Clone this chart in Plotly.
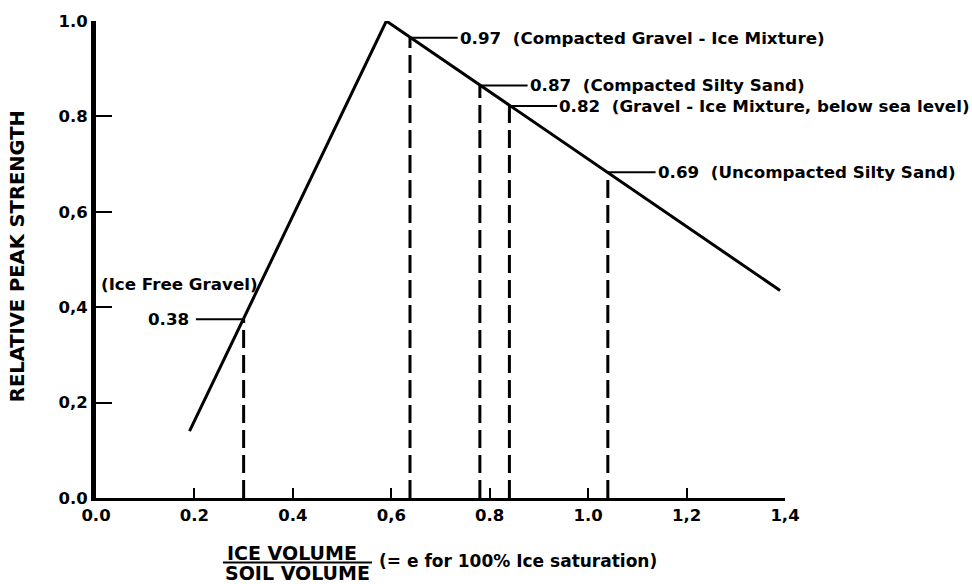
import plotly.graph_objects as go

# ---- data ----
curve_x = [0.19, 0.59, 1.39]
curve_y = [0.14, 1.00, 0.435]

mark_x = [0.30, 0.638, 0.78, 0.84, 1.04]
mark_y = [0.375, 0.965, 0.865, 0.822, 0.683]
mark_val = ["0.38", "0.97", "0.87", "0.82", "0.69"]
mark_desc = ["(Ice Free Gravel)", "(Compacted Gravel - Ice Mixture)",
             "(Compacted Silty Sand)", "(Gravel - Ice Mixture, below sea level)",
             "(Uncompacted Silty Sand)"]

x_tickvals = [0.0, 0.2, 0.4, 0.6, 0.8, 1.0, 1.2, 1.4]
x_ticktext = ["0.0", "0.2", "0.4", "0,6", "0.8", "1.0", "1,2", "1,4"]
y_tickvals = [0.0, 0.2, 0.4, 0.6, 0.8, 1.0]
y_ticktext = ["0.0", "0,2", "0,4", "0,6", "0.8", "1.0"]

FONT = "DejaVu Sans"
LEAD = 0.097
ANN_SIZE = 16.7

fig = go.Figure()

# dashed verticals
dx, dy = [], []
for x, y in zip(mark_x, mark_y):
    dx += [x, x, None]
    dy += [0, y, None]
fig.add_trace(go.Scatter(x=dx, y=dy, mode="lines", cliponaxis=False,
                         line=dict(color="black", width=3, dash="18px,7px"),
                         hoverinfo="skip", showlegend=False))

# leader lines
lx, ly = [], []
for i, (x, y) in enumerate(zip(mark_x, mark_y)):
    if i == 0:
        lx += [x, x - LEAD, None]
    else:
        lx += [x, x + LEAD, None]
    ly += [y, y, None]
fig.add_trace(go.Scatter(x=lx, y=ly, mode="lines", cliponaxis=False,
                         line=dict(color="black", width=2),
                         hoverinfo="skip", showlegend=False))

# main curve
fig.add_trace(go.Scatter(x=curve_x, y=curve_y, mode="lines", cliponaxis=False,
                         line=dict(color="black", width=3),
                         showlegend=False))

anns = []
for i, (x, y, v, d) in enumerate(zip(mark_x, mark_y, mark_val, mark_desc)):
    if i == 0:
        anns.append(dict(x=x - LEAD - 0.01, y=y, xref="x", yref="y", text=v,
                         showarrow=False, xanchor="right", yanchor="middle",
                         font=dict(family=FONT, size=ANN_SIZE, color="black", weight="bold")))
        anns.append(dict(x=0.006, y=0.449, xref="x", yref="y", text=d,
                         showarrow=False, xanchor="left", yanchor="middle",
                         font=dict(family=FONT, size=ANN_SIZE, color="black", weight="bold")))
    else:
        anns.append(dict(x=x + LEAD, y=y, xref="x", yref="y",
                         text=v + "\u00a0\u00a0" + d,
                         showarrow=False, xanchor="left", yanchor="middle",
                         font=dict(family=FONT, size=ANN_SIZE, color="black", weight="bold")))

# y-axis title
anns.append(dict(x=-0.1147, y=0.507, xref="paper", yref="paper",
                 text="RELATIVE PEAK STRENGTH", textangle=-90, showarrow=False,
                 xanchor="center", yanchor="middle",
                 font=dict(family=FONT, size=19.5, color="black", weight="bold")))
# x-axis title (fraction)
anns.append(dict(x=0.2845, y=-0.1145, xref="paper", yref="paper",
                 text="ICE VOLUME", showarrow=False, xanchor="center", yanchor="middle",
                 font=dict(family=FONT, size=19, color="black", weight="bold")))
anns.append(dict(x=0.293, y=-0.157, xref="paper", yref="paper",
                 text="SOIL VOLUME", showarrow=False, xanchor="center", yanchor="middle",
                 font=dict(family=FONT, size=19, color="black", weight="bold")))
anns.append(dict(x=0.408, y=-0.132, xref="paper", yref="paper",
                 text="(= e for 100% Ice saturation)", showarrow=False,
                 xanchor="left", yanchor="middle",
                 font=dict(family=FONT, size=17, color="black", weight="bold")))

shapes = [dict(type="line", xref="paper", yref="paper", x0=0.1843, x1=0.4006,
               y0=-0.135, y1=-0.135, line=dict(color="black", width=2))]

fig.update_layout(
    width=972, height=584,
    margin=dict(l=96, r=187, t=17, b=86),
    paper_bgcolor="white", plot_bgcolor="white",
    annotations=anns, shapes=shapes,
    xaxis=dict(range=[0, 1.4], tickvals=x_tickvals, ticktext=x_ticktext,
               showgrid=False, zeroline=False, showline=True, linecolor="black",
               linewidth=3, ticks="inside", ticklen=10, tickwidth=2, tickcolor="black",
               tickfont=dict(family=FONT, size=16.5, color="black", weight="bold")),
    yaxis=dict(range=[0, 1.0], tickvals=y_tickvals, ticktext=y_ticktext,
               showgrid=False, zeroline=False, showline=True, linecolor="black",
               linewidth=5, ticks="inside", ticklen=16, tickwidth=2, tickcolor="black",
               tickfont=dict(family=FONT, size=16.5, color="black", weight="bold")),
)

fig.write_html("out.html")
